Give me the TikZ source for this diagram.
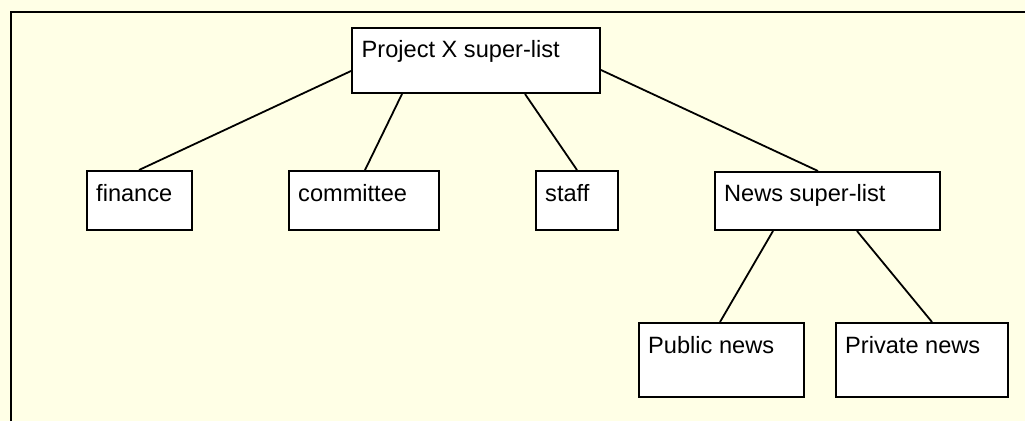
\documentclass[tikz,border=0pt]{standalone}
\usepackage{fontspec}
\setmainfont{Liberation Sans}
\definecolor{bgyellow}{HTML}{FFFFE6}
\tikzset{
  box/.style={draw=black, line width=2pt, fill=white, rectangle, anchor=north west, inner sep=0pt},
  lbl/.style={anchor=base west, inner sep=0pt, font=\fontsize{23.6}{26}\selectfont},
  conn/.style={draw=black, line width=1.8pt},
  frame/.style={draw=black, line width=2.2pt}
}
\begin{document}
\begin{tikzpicture}[x=1pt,y=-1pt]
\useasboundingbox[fill=bgyellow] (0,0) rectangle (1025,421);
\coordinate (fbot) at (11,421);
\coordinate (fcorner) at (11,12);
\coordinate (fright) at (1025,12);
\draw[frame] (fbot) -- (fcorner) -- (fright);

\node[box, minimum width=248pt, minimum height=65pt] (px) at (351,27) {};
\node[box, minimum width=105pt, minimum height=59pt] (fin) at (86,170) {};
\node[box, minimum width=150pt, minimum height=59pt] (com) at (288,170) {};
\node[box, minimum width=82pt, minimum height=59pt] (stf) at (535,170) {};
\node[box, minimum width=225pt, minimum height=58pt] (nws) at (714,171) {};
\node[box, minimum width=165pt, minimum height=74pt] (pub) at (638,322) {};
\node[box, minimum width=172pt, minimum height=74pt] (prv) at (835,322) {};

\node[lbl] (pxt) at ([xshift=10.5pt,yshift=-30.5pt]px.north west) {Project X super-list};
\node[lbl] (fint) at ([xshift=10pt,yshift=-31.5pt]fin.north west) {finance};
\node[lbl] (comt) at ([xshift=10pt,yshift=-31.5pt]com.north west) {committee};
\node[lbl] (stft) at ([xshift=10pt,yshift=-31.5pt]stf.north west) {staff};
\node[lbl] (nwst) at ([xshift=10pt,yshift=-30.5pt]nws.north west) {News super-list};
\node[lbl] (pubt) at ([xshift=10pt,yshift=-31.5pt]pub.north west) {Public news};
\node[lbl] (prvt) at ([xshift=10pt,yshift=-31.5pt]prv.north west) {Private news};

\draw[conn] ([yshift=-44pt]px.north west) -- ([xshift=53pt]fin.north west);
\draw[conn] ([xshift=51pt]px.south west) -- ([xshift=77pt]com.north west);
\draw[conn] ([xshift=174pt]px.south west) -- ([xshift=42pt]stf.north west);
\draw[conn] ([yshift=-43pt]px.north east) -- ([xshift=104pt]nws.north west);
\draw[conn] ([xshift=59pt]nws.south west) -- ([xshift=82pt]pub.north west);
\draw[conn] ([xshift=143pt]nws.south west) -- ([xshift=97pt]prv.north west);
\end{tikzpicture}
\end{document}
